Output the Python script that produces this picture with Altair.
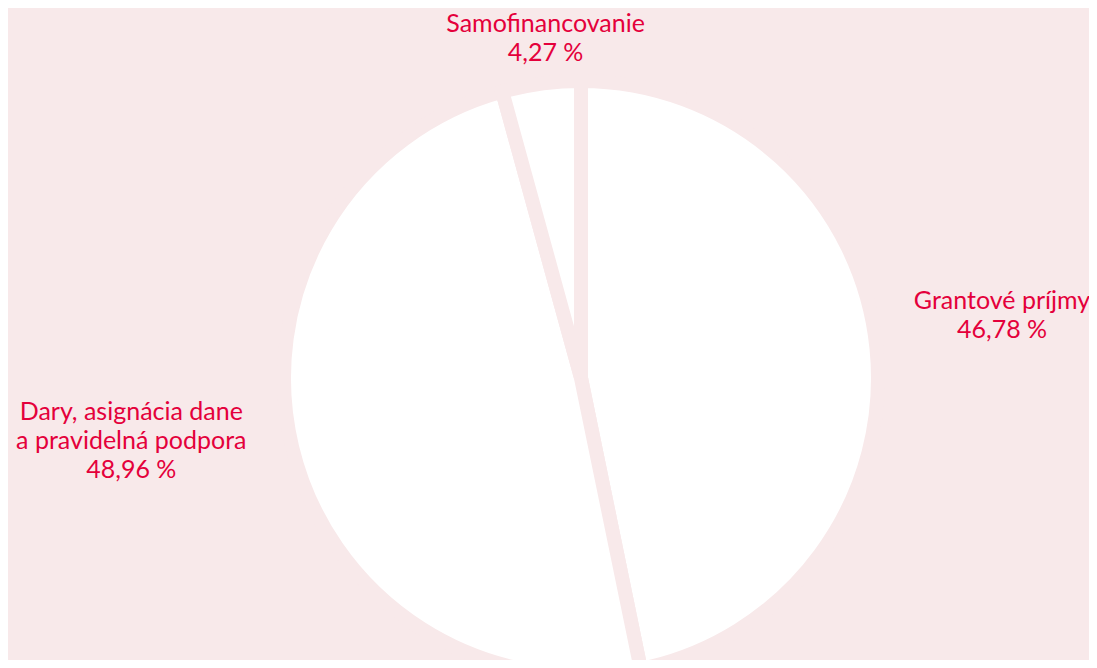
import altair as alt
import pandas as pd

kategorie = ["Grantové príjmy", "Dary, asignácia dane\na pravidelná podpora", "Samofinancovanie"]
podiely = [46.78, 48.96, 4.27]
popisky = ["46,78 %", "48,96 %", "4,27 %"]
poradie = [1, 2, 3]

BG = "#f8e9ea"
RED = "#e4003b"

df = pd.DataFrame({"kategoria": kategorie, "podiel": podiely, "popis": popisky, "poradie": poradie})
df["text"] = df["kategoria"] + "\n" + df["popis"]

CX, CY = 573, 370

base = alt.Chart(df)

pie = base.mark_arc(
    outerRadius=297, fill="white", stroke=BG, strokeWidth=14
).encode(
    theta=alt.Theta("podiel:Q", stack=True),
    order=alt.Order("poradie:Q"),
    x=alt.value(CX),
    y=alt.value(CY),
)

labels = base.transform_window(
    kum="sum(podiel)", sort=[alt.SortField("poradie")]
).transform_joinaggregate(
    spolu="sum(podiel)"
).transform_calculate(
    uhol="2*PI*(datum.kum - datum.podiel/2)/datum.spolu + (datum.poradie == 1 ? -0.0796 : datum.poradie == 2 ? 0.160 : 0.0345)",
    polomer="datum.poradie == 1 ? 428 : datum.poradie == 2 ? 451 : 356",
).mark_text(
    font="Lato", fontSize=25, color=RED, lineBreak="\n", lineHeight=29,
    align="center", baseline="middle"
).encode(
    theta=alt.Theta("uhol:Q", scale=None),
    radius=alt.Radius("polomer:Q", scale=None),
    text="text:N",
    x=alt.value(CX),
    y=alt.value(CY),
)

chart = alt.layer(pie, labels).properties(
    width=1081, height=652, background=BG, padding=0,
    autosize=alt.AutoSizeParams(type="none")
).configure_view(stroke=None)

chart.save("out.html", embed_options={"renderer": "svg", "actions": False})
